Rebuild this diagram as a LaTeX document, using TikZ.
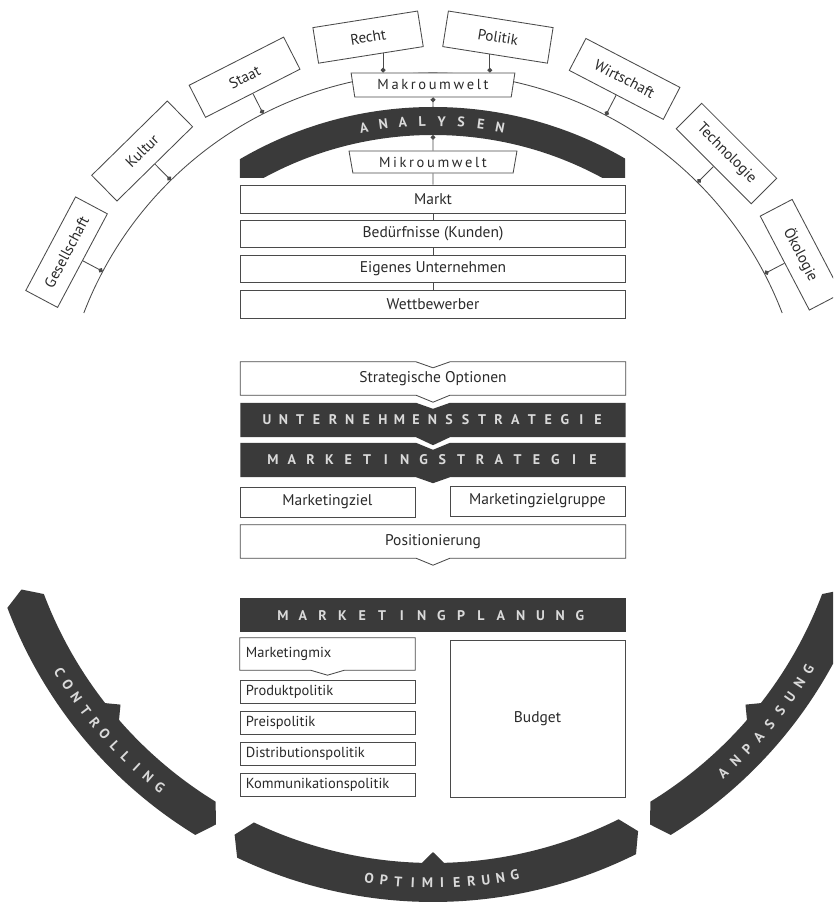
\documentclass[tikz,border=0pt]{standalone}
\usepackage{fontspec}
\setmainfont{PT Sans}
\usetikzlibrary{arrows.meta,calc,shapes.geometric}
\pgfdeclarelayer{background}
\pgfsetlayers{background,main}
\definecolor{bandgray}{HTML}{3A3A3A}
\definecolor{linegray}{HTML}{4A4A4A}
\definecolor{lettergray}{HTML}{DADADA}
\definecolor{textgray}{HTML}{2A2A2A}
\makeatletter
\newcommand\spreadout[2]{\def\sp@gap{#1}\@tfor\sp@c:=#2\do{\sp@c\hskip\sp@gap\relax}\unskip}
\makeatother
\newcommand\chevshape[4]{%
  \begin{pgfonlayer}{background}
  \path[#4] (#1.north west) -- ([xshift=-17pt]#1.north) -- ([yshift=-#2]#1.north) -- ([xshift=17pt]#1.north) -- (#1.north east) -- (#1.south east) -- ([xshift=17pt]#1.south) -- ([yshift=-#3]#1.south) -- ([xshift=-17pt]#1.south) -- (#1.south west) -- cycle;
  \end{pgfonlayer}}
\newcommand\ringband[3]{%
  \fill[bandgray] ({#1-1.6}:435.5pt) -- (#1:455pt) arc[start angle=#1, end angle=#2, radius=455pt] -- ({#2+1.6}:435.5pt) -- (#2:416pt) arc[start angle=#2, end angle={#3+1.5}, radius=416pt] -- (#3:405pt) -- ({#3-1.5}:416pt) arc[start angle={#3-1.5}, end angle=#1, radius=416pt] -- cycle;}
\begin{document}
\begin{tikzpicture}[x=1pt,y=1pt,
  ln/.style={draw=linegray, line width=0.85pt},
  conn/.style={ln, -{Circle[length=4.8pt]}},
  envbox/.style={ln, fill=white, rectangle, minimum width=106pt, minimum height=36pt, inner sep=0pt, font=\fontsize{15}{18}\selectfont, text=textgray},
  cbox/.style={ln, fill=white, rectangle, minimum width=385pt, inner sep=0pt, font=\fontsize{15.5}{18}\selectfont, text=textgray},
  plainbox/.style={rectangle, minimum width=385pt, inner sep=0pt, font=\fontsize{15.5}{18}\selectfont, text=textgray},
  lbox/.style={ln, fill=white, rectangle, minimum height=23pt, text width=163pt, inner xsep=6pt, inner ysep=0pt, align=left, font=\fontsize{14.5}{17}\selectfont, text=textgray},
  lplain/.style={rectangle, minimum height=32pt, text width=163pt, inner xsep=6pt, inner ysep=0pt, align=left, font=\fontsize{14.5}{17}\selectfont, text=textgray},
  trap/.style={trapezium, trapezium left angle=104, trapezium right angle=104, trapezium stretches=true, ln, fill=white, inner sep=0pt, font=\fontsize{14.5}{16}\selectfont, text=textgray},
  darkbar/.style={fill=bandgray, rectangle, minimum width=385pt, minimum height=34pt, inner sep=0pt},
  barletter/.style={text=lettergray, font=\fontsize{14}{16}\selectfont\bfseries, inner sep=0pt, text height=10pt, text depth=0pt},
  arcletter/.style={text=lettergray, font=\fontsize{14}{16}\selectfont\bfseries, inner sep=0pt, text height=10pt, text depth=0pt}
]
\useasboundingbox (-433,-457) rectangle (400,447);
\clip (-433,-457) rectangle (400,447);

% outer environment arc
\draw[ln] (21:374pt) arc[start angle=21, end angle=159, radius=374pt];

% environment boxes
\foreach \nm/\txt/\ang in {Ges/Gesellschaft/152,Kul/Kultur/134.5,Sta/Staat/117,Rec/Recht/99,Pol/Politik/81,Wir/Wirtschaft/62.5,Tec/Technologie/45,Oek/Ökologie/27.6}{
  \node[envbox, rotate=\ang-90] (\nm) at (\ang:415pt) {\txt};
}
\foreach \nm/\ang in {Ges/152,Kul/134.5,Sta/117,Wir/62.5,Tec/45,Oek/27.6}{
  \coordinate (a\nm) at (\ang:374pt);
  \draw[conn] (\nm.south) -- (a\nm);
}

% Makroumwelt
\node[trap, minimum width=164pt, minimum height=24pt] (makro) at (0,362) {\spreadout{2.6pt}{Makroumwelt}};
\coordinate (rc) at ($(Rec.south)!0.23!(Rec.south east)$);
\coordinate (pc) at ($(Pol.south)!0.1!(Pol.south west)$);
\draw[conn] (rc) -- (rc |- makro.north);
\draw[conn] (pc) -- (pc |- makro.north);

% ANALYSEN band
\begin{scope}
  \clip (-193,269) rectangle (192,400);
  \fill[bandgray, even odd rule] (0,-43) circle[radius=383pt] (0,-43) circle[radius=355pt];
\end{scope}
\foreach \ch [count=\i] in {A,N,A,L,Y,S,E,N}{
  \pgfmathsetmacro\ang{100.8-(\i-1)*3.04}
  \node[barletter, rotate=\ang-90] (ana\i) at ($(0,-43)+(\ang:369pt)$) {\ch};
}
\coordinate (bandtop) at (0,340);
\coordinate (bandbot) at (0,312);
\draw[conn] (bandtop) -- (makro.south);

% Mikroumwelt
\node[trap, minimum width=168pt, minimum height=22pt] (mikro) at (0,285) {\spreadout{2.6pt}{Mikroumwelt}};
\draw[conn] (mikro.north) -- (bandbot);

% analysis boxes
\node[cbox, minimum height=28pt] (markt) at (0,248) {Markt};
\node[cbox, minimum height=27pt] (bed) at (0,213.5) {Bedürfnisse (Kunden)};
\node[cbox, minimum height=27pt] (eig) at (0,178.5) {Eigenes Unternehmen};
\node[cbox, minimum height=28pt] (wett) at (0,143) {Wettbewerber};
\draw[ln] (mikro.south) -- (markt.north);
\draw[ln] (markt.south) -- (bed.north);
\draw[ln] (bed.south) -- (eig.north);
\draw[ln] (eig.south) -- (wett.north);

% strategy section
\node[plainbox, minimum height=33pt] (strat) at (0,68.5) {Strategische Optionen};
\chevshape{strat}{6pt}{7pt}{ln, fill=white}
\node[plainbox, minimum height=34pt] (unt) at (0,27) {};
\chevshape{unt}{6pt}{8pt}{fill=bandgray}
\foreach \ch [count=\i] in {U,N,T,E,R,N,E,H,M,E,N,S,S,T,R,A,T,E,G,I,E}{
  \node[barletter] (us\i) at ({-166+(\i-1)*16.55},27) {\ch};
}
\node[plainbox, minimum height=34pt] (mstrat) at (0,-13) {};
\chevshape{mstrat}{7pt}{6pt}{fill=bandgray}
\foreach \ch [count=\i] in {M,A,R,K,E,T,I,N,G,S,T,R,A,T,E,G,I,E}{
  \node[barletter] (ms\i) at ({-160+(\i-1)*18.82},-13) {\ch};
}
\node[cbox, minimum width=175pt, minimum height=30pt] (mziel) at (-105.5,-55) {Marketingziel};
\node[cbox, minimum width=175pt, minimum height=30pt] (mzg) at (104.5,-54) {Marketingzielgruppe};
\node[plainbox, minimum height=33pt] (pos) at (0,-94.5) {Positionierung};
\chevshape{pos}{0pt}{7pt}{ln, fill=white}

% planning section
\node[darkbar] (mplan) at (0,-168) {};
\foreach \ch [count=\i] in {M,A,R,K,E,T,I,N,G,P,L,A,N,U,N,G}{
  \node[barletter] (mp\i) at ({-150+(\i-1)*19.8},-168) {\ch};
}
\node[lplain] (mmix) at (-105.5,-207) {Marketingmix};
\chevshape{mmix}{0pt}{5pt}{ln, fill=white}
\node[lbox] (prod) at (-105.5,-244.5) {Produktpolitik};
\node[lbox] (preis) at (-105.5,-275.5) {Preispolitik};
\node[lbox] (dist) at (-105.5,-306.5) {Distributionspolitik};
\node[lbox] (komm) at (-105.5,-337.5) {Kommunikationspolitik};
\node[cbox, minimum width=175pt, minimum height=157pt] (budget) at (104.5,-271.5) {Budget};

% outer bands
\ringband{200.7}{238.5}{219.5}
\ringband{244.5}{296.5}{270}
\ringband{301.5}{339.3}{320.5}
\foreach \ch [count=\i] in {C,O,N,T,R,O,L,L,I,N,G}{
  \pgfmathsetmacro\ang{211.1+(\i-1)*2.01}
  \node[arcletter, rotate=\ang+90] (ctl\i) at (\ang:436pt) {\ch};
}
\foreach \ch [count=\i] in {O,P,T,I,M,I,E,R,U,N,G}{
  \pgfmathsetmacro\ang{261.6+(\i-1)*1.92}
  \node[arcletter, rotate=\ang+90] (opt\i) at (\ang:436pt) {\ch};
}
\foreach \ch [count=\i] in {A,N,P,A,S,S,U,N,G}{
  \pgfmathsetmacro\ang{311.7+(\i-1)*2.21}
  \node[arcletter, rotate=\ang+90] (anp\i) at (\ang:436pt) {\ch};
}
\end{tikzpicture}
\end{document}
